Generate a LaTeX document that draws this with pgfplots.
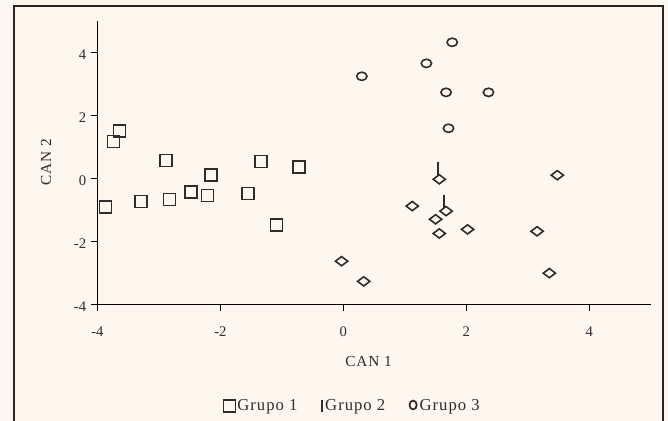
\documentclass[border=0pt]{standalone}
\usepackage{fontspec}
\setmainfont{Liberation Serif}
\usepackage{pgfplots}
\pgfplotsset{compat=1.18}
\definecolor{bg}{RGB}{253,247,240}
\definecolor{ink}{RGB}{45,45,45}
\newfontfamily\spaced[LetterSpace=6]{Liberation Serif}
\begin{document}
\begin{tikzpicture}
\useasboundingbox (0,0) rectangle (501pt,315.75pt);
\fill[bg] (0,0) rectangle (501pt,315.75pt);
\draw[line width=1.4pt, black!85] (10.5pt,-2pt) -- (10.5pt,311.25pt) -- (497.25pt,311.25pt) -- (497.25pt,-2pt);
\begin{axis}[
  at={(73.1pt,87.5pt)}, anchor=south west,
  scale only axis, width=415pt, height=212.6pt,
  xmin=-4, xmax=5, ymin=-4, ymax=5,
  axis x line=bottom, axis y line=left,
  axis line style={-, line width=0.9pt, black},
  xtick={-4,-2,0,2,4}, ytick={-4,-2,0,2,4},
  tick align=outside, major tick length=5pt,
  tick style={line width=0.9pt, black},
  /pgf/number format/assume math mode=true,
  ticklabel style={font=\fontsize{11}{13}\selectfont, text=ink},
  xticklabel style={yshift=-8pt},
  yticklabel style={yshift=-2pt},
  xlabel={CAN 1}, ylabel={CAN 2},
  label style={font=\spaced\fontsize{11.5}{13}\selectfont, text=ink},
  xlabel style={at={(axis description cs:0.49,-0.2025)}, anchor=center},
  ylabel style={at={(axis description cs:-0.093,0.5)}, anchor=center},
  legend columns=3,
  legend style={at={(0.461,-0.358)}, anchor=center, draw=none, fill=none,
    font=\spaced\fontsize{12.5}{14}\selectfont, text=ink,
    /tikz/every odd column/.style={column sep=0pt},
    /tikz/every even column/.style={column sep=16pt},
    nodes={inner xsep=1.5pt}},
  legend image code/.code={\draw[#1] plot coordinates {(0pt,0pt)};},
]
\addplot[only marks, mark=square, mark size=4.5pt, draw=ink, mark options={line width=1.25pt}]
coordinates {
(-3.64,1.50) (-3.74,1.17) (-3.87,-0.92) (-3.29,-0.73) (-2.89,0.57)
(-2.83,-0.67) (-2.48,-0.43) (-2.21,-0.54) (-2.15,0.10) (-1.55,-0.48)
(-1.34,0.54) (-1.09,-1.49) (-0.72,0.35)
};
\addlegendentry{Grupo 1}
\addplot[only marks, mark=|, mark size=4.9pt, draw=ink, mark options={line width=1.4pt},
  legend image code/.code={\draw[ink, line width=1.8pt] (0pt,-4.4pt) -- (0pt,4.4pt);}]
coordinates {
(1.535,0.32) (1.64,-0.73)
};
\addlegendentry{Grupo 2}
\addplot[only marks, mark=o, mark size=3.1pt, draw=ink, mark options={line width=1.2pt, xscale=1.25},
  legend image code/.code={\draw[ink, line width=1.3pt] (0pt,0.6pt) ellipse [x radius=2.7pt, y radius=3.3pt];}]
coordinates {
(0.30,3.24) (1.35,3.65) (1.77,4.32) (1.67,2.73) (2.36,2.73) (1.71,1.59)
};
\addlegendentry{Grupo 3}
\addplot[only marks, mark=diamond, mark size=4.6pt, draw=ink, mark options={line width=1.2pt, rotate=90}, forget plot]
coordinates {
(1.56,-0.03) (1.12,-0.88) (1.67,-1.04) (1.50,-1.30) (1.56,-1.75)
(2.02,-1.62) (3.15,-1.68) (3.48,0.10) (3.35,-3.01) (-0.03,-2.63) (0.33,-3.27)
};
\end{axis}
\end{tikzpicture}
\end{document}
